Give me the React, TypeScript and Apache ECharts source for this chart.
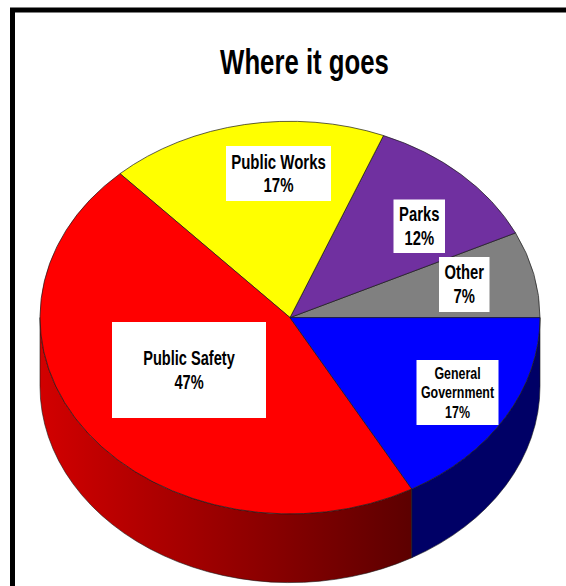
import React, { useEffect, useRef } from "react";
import * as echarts from "echarts";

const titleText = "Where it goes";
const categories = ["Other", "Parks", "Public Works", "Public Safety", "General Government"];
const sliceShares = [7.1, 11.8, 18.0, 46.2, 16.9];
const labelPercents = ["7%", "12%", "17%", "47%", "17%"];
const labelTexts = ["Other", "Parks", "Public Works", "Public Safety", "General\nGovernment"];
const topColors = ["#808080", "#7030A0", "#FFFF00", "#FF0000", "#0000FF"];

const CX = 290, CY = 317.6, RX = 250, RY = 196.3, DEPTH = 68.7;
const boxes = [
  { x: 439, y: 257, w: 50.5, h: 55, font: 20, sx: 0.74, lh: 24 },
  { x: 393.5, y: 199.5, w: 51.5, h: 53.5, font: 20, sx: 0.74, lh: 23.5 },
  { x: 226, y: 146, w: 105, h: 55, font: 20, sx: 0.75, lh: 23 },
  { x: 112, y: 322, w: 154, h: 96, font: 20, sx: 0.73, lh: 23.5 },
  { x: 416.5, y: 360, w: 82, h: 65, font: 17, sx: 0.73, lh: 19.4 },
];

const pt = (deg: number, dy = 0) => {
  const a = (deg * Math.PI) / 180;
  return [CX + RX * Math.cos(a), CY - RY * Math.sin(a) + dy];
};

function sidePaint(index: number) {
  if (index === 3) {
    return new echarts.graphic.LinearGradient(
      CX - RX, 0, 412, 0,
      [{ offset: 0, color: "#D20000" }, { offset: 1, color: "#5C0000" }],
      true
    );
  }
  return "#000066";
}

function renderItem(params: any, api: any) {
  const i = params.dataIndex;
  const total = sliceShares.reduce((s, v) => s + v, 0);
  const before = sliceShares.slice(0, i).reduce((s, v) => s + v, 0);
  const a1 = (before / total) * 360;
  const a2 = a1 + (api.value(0) / total) * 360;
  const [x1, y1] = pt(a1);
  const [x2, y2] = pt(a2);
  const large = a2 - a1 > 180 ? 1 : 0;
  const top = `M${CX} ${CY}L${x1} ${y1}A${RX} ${RY} 0 ${large} 0 ${x2} ${y2}Z`;
  const children: any[] = [];
  const s1 = Math.max(a1, 180);
  const s2 = Math.min(a2, 360);
  if (s2 > s1) {
    const [ax, ay] = pt(s1);
    const [bx, by] = pt(s2);
    const [cx, cy] = pt(s2, DEPTH);
    const [dx, dy] = pt(s1, DEPTH);
    children.push({
      type: "path",
      z2: 1,
      shape: {
        pathData: `M${ax} ${ay}A${RX} ${RY} 0 0 0 ${bx} ${by}L${cx} ${cy}A${RX} ${RY} 0 0 1 ${dx} ${dy}Z`,
      },
      style: { fill: sidePaint(i), stroke: "#1a1a1a", lineWidth: 0.6 },
    });
  }
  children.push({
    type: "path",
    z2: 2,
    shape: { pathData: top },
    style: { fill: topColors[i], stroke: "#1a1a1a", lineWidth: 0.7 },
  });
  return { type: "group", children };
}

export default function App() {
  const ref = useRef<HTMLDivElement>(null);
  useEffect(() => {
    const chart = echarts.init(ref.current!, null, { renderer: "svg" });
    const labelEls = boxes.flatMap((b, i) => [
      {
        type: "rect",
        z: 10,
        shape: { x: b.x, y: b.y, width: b.w, height: b.h },
        style: { fill: "#ffffff" },
      },
      {
        type: "text",
        z: 11,
        x: b.x + b.w / 2,
        y: b.y + b.h / 2,
        scaleX: b.sx,
        style: {
          text: `${labelTexts[i]}\n${labelPercents[i]}`,
          fontFamily: "Liberation Sans",
          fontWeight: "bold",
          fontSize: b.font,
          lineHeight: b.lh,
          fill: "#000000",
          textAlign: "center",
          textVerticalAlign: "middle",
        },
      },
    ]);
    chart.setOption({
      animation: false,
      backgroundColor: "#ffffff",
      series: [
        {
          type: "custom",
          coordinateSystem: "none",
          silent: true,
          renderItem,
          data: sliceShares.map((v, i) => ({ name: categories[i], value: [v] })),
        },
      ],
      graphic: {
        elements: [
          {
            type: "rect",
            z: 9,
            shape: { x: 12.5, y: 10, width: 800, height: 800 },
            style: { fill: "none", stroke: "#000000", lineWidth: 5 },
          },
          {
            type: "text",
            z: 11,
            x: 304.5,
            y: 62,
            scaleX: 0.736,
            style: {
              text: titleText,
              fontFamily: "Liberation Sans",
              fontWeight: "bold",
              fontSize: 35,
              fill: "#000000",
              textAlign: "center",
              textVerticalAlign: "middle",
            },
          },
          ...labelEls,
        ],
      },
    });
    return () => chart.dispose();
  }, []);
  return (
    <div
      ref={ref}
      style={{ position: "fixed", left: 0, top: 0, width: 566, height: 586, overflow: "hidden" }}
    />
  );
}
